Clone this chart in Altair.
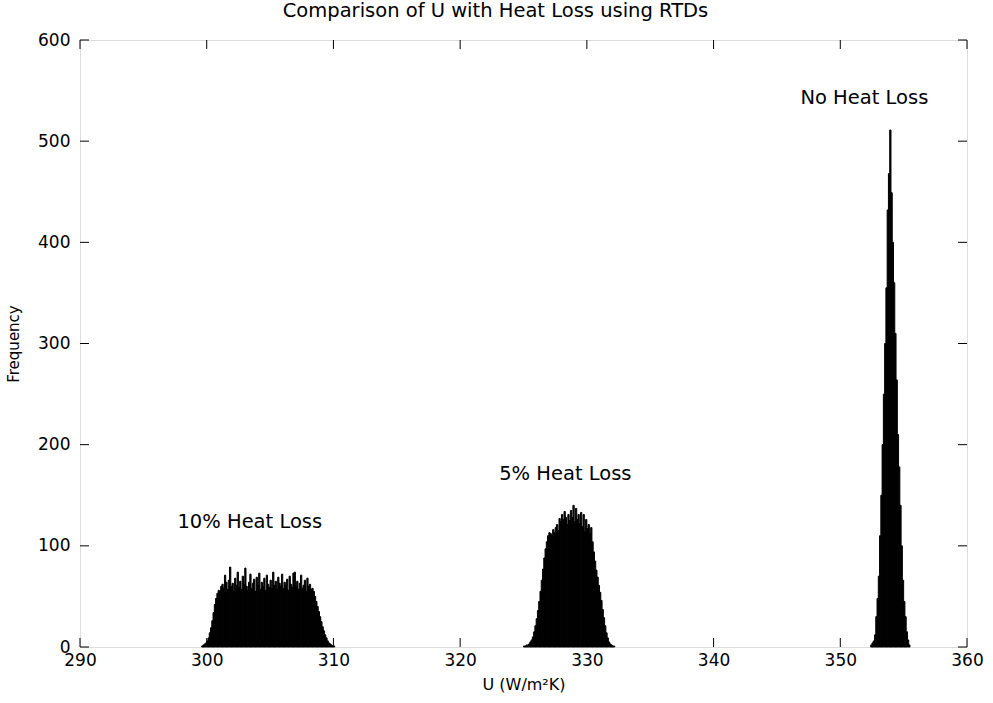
import altair as alt
import pandas as pd

# ---- data (bin counts, bin width 0.1) ----
BIN_W = 0.1

loss10_start = 299.6
loss10_counts = [1, 2, 3, 4, 6, 9, 14, 19, 26, 34, 42, 48, 53, 56, 55, 60,
                 62, 58, 71, 64, 57, 66, 79, 60, 63, 55, 68, 61, 74, 59, 65, 57, 70, 62, 78, 60,
                 56, 64, 72, 58, 63, 67, 55, 69, 61, 73, 57, 64, 60, 68, 56, 71, 62, 59, 66, 58,
                 74, 61, 65, 57, 69, 63, 60, 72, 58, 64, 61, 67, 56, 70, 62, 59, 73, 74, 60, 65,
                 57, 63, 71, 58, 61, 66, 55, 68, 60, 62, 57, 58,
                 55, 50, 45, 40, 35, 30, 25, 20, 16, 12, 9, 6, 4, 3, 2, 1, 1]

loss5_start = 325.0
loss5_counts = [1, 1, 2, 2, 3, 5, 7, 10, 15, 21, 28, 36, 45, 55, 66, 77, 88, 97, 104, 110,
                113, 112, 110, 116, 113, 118, 121, 115, 127, 124, 131, 126, 134, 128, 121,
                131, 125, 135, 128, 140, 124, 137, 126, 131, 122, 133, 119, 131, 114, 126,
                117, 121, 112, 118, 104, 94, 85, 76, 69, 61, 54, 46, 37, 29, 21, 14, 9, 5, 3, 2, 1, 1]

loss0_start = 352.4
loss0_counts = [2, 4, 6, 12, 30, 48, 70, 110, 150, 200, 250, 300, 355, 432, 468, 511,
                449, 400, 360, 310, 264, 210, 178, 140, 100, 66, 45, 30, 15, 7, 2]

labels_text = ["10% Heat Loss", "5% Heat Loss", "No Heat Loss"]
labels_x = [303.4, 328.3, 351.9]
labels_y = [124, 171, 543]

x_ticks = [290, 300, 310, 320, 330, 340, 350, 360]
y_ticks = [0, 100, 200, 300, 400, 500, 600]

# ---- build table ----
rows = []
for start, counts in [(loss10_start, loss10_counts), (loss5_start, loss5_counts), (loss0_start, loss0_counts)]:
    for i, c in enumerate(counts):
        x0 = round(start + i * BIN_W, 4)
        rows.append({"x0": x0, "x1": round(x0 + BIN_W, 4), "count": c})
hist = pd.DataFrame(rows)
lab = pd.DataFrame({"text": labels_text, "x": labels_x, "y": labels_y})
xt = pd.DataFrame({"v": x_ticks})
yt = pd.DataFrame({"v": y_ticks})

W, H = 887, 607
FONT = "DejaVu Sans"

xscale = alt.Scale(domain=[290, 360], nice=False, zero=False)
yscale = alt.Scale(domain=[0, 600], nice=False)

bars = alt.Chart(hist).mark_rect(color="black", stroke="black", strokeWidth=1).encode(
    x=alt.X("x0:Q", scale=xscale,
            axis=alt.Axis(values=x_ticks, ticks=False, domain=False, grid=False,
                          labelFlush=False, labelOverlap=False,
                          labelFontSize=17, labelFont=FONT, labelColor="black", labelPadding=5,
                          title="U (W/m²K)", titleFont=FONT, titleFontSize=16,
                          titleFontWeight="normal", titleColor="black", titlePadding=8)),
    x2="x1:Q",
    y=alt.Y("count:Q", scale=yscale,
            axis=alt.Axis(values=y_ticks, ticks=False, domain=False, grid=False,
                          labelFlush=False, labelOverlap=False,
                          labelFontSize=17, labelFont=FONT, labelColor="black", labelPadding=10,
                          title="Frequency", titleFont=FONT, titleFontSize=15,
                          titleFontWeight="normal", titleColor="black", titlePadding=16)),
    y2=alt.datum(0),
)

texts = alt.Chart(lab).mark_text(font=FONT, fontSize=19.5, color="black", align="center",
                                 baseline="middle").encode(
    x=alt.X("x:Q", scale=xscale), y=alt.Y("y:Q", scale=yscale), text="text:N")

TL = 9
xb = alt.Chart(xt).mark_rule(color="black", strokeWidth=1).encode(
    x=alt.X("v:Q", scale=xscale), y=alt.value(H), y2=alt.value(H - TL))
xtop = alt.Chart(xt).mark_rule(color="black", strokeWidth=1).encode(
    x=alt.X("v:Q", scale=xscale), y=alt.value(0), y2=alt.value(TL))
yl = alt.Chart(yt).mark_rule(color="black", strokeWidth=1).encode(
    y=alt.Y("v:Q", scale=yscale), x=alt.value(0), x2=alt.value(TL))
yr = alt.Chart(yt).mark_rule(color="black", strokeWidth=1).encode(
    y=alt.Y("v:Q", scale=yscale), x=alt.value(W), x2=alt.value(W - TL))

chart = alt.layer(bars, texts, xb, xtop, yl, yr).properties(
    width=W, height=H,
    title=alt.TitleParams("Comparison of U with Heat Loss using RTDs", font=FONT, fontSize=19.5,
                          fontWeight="normal", color="black", offset=10, anchor="middle", dx=-28),
    autosize=alt.AutoSizeParams(type="none"),
    padding={"left": 80, "top": 40, "right": 26, "bottom": 56},
).configure_view(stroke="black", strokeWidth=1).configure(background="white")

chart.save("out.html", embed_options={"renderer": "svg", "actions": False})
